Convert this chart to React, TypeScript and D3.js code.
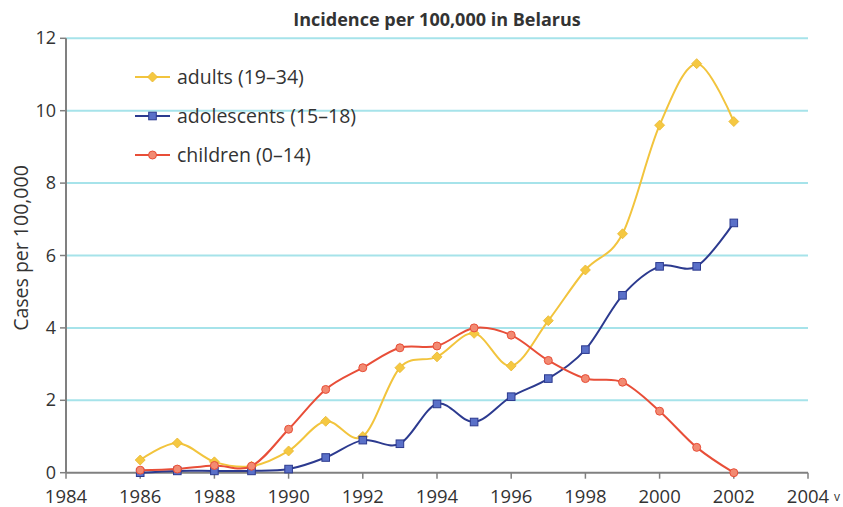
import React from "react";
import * as d3 from "d3";

const years = [1986, 1987, 1988, 1989, 1990, 1991, 1992, 1993, 1994, 1995, 1996, 1997, 1998, 1999, 2000, 2001, 2002];
const adults = [0.35, 0.82, 0.3, 0.18, 0.6, 1.42, 1.0, 2.9, 3.2, 3.85, 2.95, 4.2, 5.6, 6.6, 9.6, 11.3, 9.7];
const adolescents = [0, 0.05, 0.05, 0.05, 0.1, 0.42, 0.9, 0.8, 1.9, 1.4, 2.1, 2.6, 3.4, 4.9, 5.7, 5.7, 6.9];
const children = [0.07, 0.1, 0.2, 0.18, 1.2, 2.3, 2.9, 3.45, 3.5, 4.0, 3.8, 3.1, 2.6, 2.5, 1.7, 0.7, 0.0];
const xTicks = [1984, 1986, 1988, 1990, 1992, 1994, 1996, 1998, 2000, 2002, 2004];
const yTicks = [0, 2, 4, 6, 8, 10, 12];
const seriesNames = ["adults (19\u201334)", "adolescents (15\u201318)", "children (0\u201314)"];

const W = 843, H = 507;
const x = d3.scaleLinear().domain([1984, 2004]).range([66, 808]);
const y = d3.scaleLinear().domain([0, 12]).range([472.7, 38.3]);

const series = [
  { name: seriesNames[0], values: adults, line: "#f2c43d", fill: "#f5c842", stroke: "#e9b730", marker: "diamond" },
  { name: seriesNames[1], values: adolescents, line: "#2c3a8f", fill: "#5a70c8", stroke: "#2c3a8f", marker: "square" },
  { name: seriesNames[2], values: children, line: "#e84e38", fill: "#f28a72", stroke: "#e84e38", marker: "circle" },
];

function Marker({ type, cx, cy, fill, stroke }: any) {
  if (type === "diamond") {
    const r = 5;
    return <path d={`M${cx},${cy - r}L${cx + r},${cy}L${cx},${cy + r}L${cx - r},${cy}Z`} fill={fill} stroke={stroke} strokeWidth={0.8} />;
  }
  if (type === "square") {
    return <rect x={cx - 3.8} y={cy - 3.8} width={7.6} height={7.6} fill={fill} stroke={stroke} strokeWidth={1} />;
  }
  return <circle cx={cx} cy={cy} r={4} fill={fill} stroke={stroke} strokeWidth={1} />;
}

export default function App() {
  const line = d3.line<number>()
    .x((_, i) => x(years[i]))
    .y((d) => y(d))
    .curve(d3.curveCardinal.tension(0));
  const font = "'Open Sans', sans-serif";
  return (
    <svg width={W} height={H} style={{ position: "absolute", left: 0, top: 0 }} fontFamily={font}>
      <rect width={W} height={H} fill="#fff" />
      <text x={437} y={26} textAnchor="middle" fontSize={18} fontWeight="bold" fill="#333">Incidence per 100,000 in Belarus</text>
      {yTicks.filter((t) => t > 0).map((t) => (
        <line key={t} x1={x(1984)} x2={x(2004)} y1={y(t)} y2={y(t)} stroke="#a6e3ea" strokeWidth={2} />
      ))}
      <line x1={x(1984)} x2={x(1984)} y1={y(12)} y2={y(0)} stroke="#808080" strokeWidth={2} />
      <line x1={x(1984)} x2={x(2004)} y1={y(0)} y2={y(0)} stroke="#808080" strokeWidth={2} />
      {yTicks.map((t) => (
        <g key={t}>
          <line x1={x(1984) - 6} x2={x(1984)} y1={y(t)} y2={y(t)} stroke="#808080" strokeWidth={1.5} />
          <text x={x(1984) - 10} y={y(t) + 6} textAnchor="end" fontSize={18} fill="#333">{t}</text>
        </g>
      ))}
      {xTicks.map((t) => (
        <g key={t}>
          <line x1={x(t)} x2={x(t)} y1={y(0)} y2={y(0) + 6} stroke="#808080" strokeWidth={1.5} />
          <text x={x(t)} y={y(0) + 30} textAnchor="middle" fontSize={18.5} fill="#333">{t}</text>
        </g>
      ))}
      <text x={834} y={501} fontSize={12} fill="#333">v</text>
      <text transform={`translate(28,248) rotate(-90)`} textAnchor="middle" fontSize={19.5} fill="#333">Cases per 100,000</text>
      {series.map((s) => (
        <g key={s.name}>
          <path d={line(s.values) || ""} fill="none" stroke={s.line} strokeWidth={2} />
          {s.values.map((v, i) => (
            <Marker key={i} type={s.marker} cx={x(years[i])} cy={y(v)} fill={s.fill} stroke={s.stroke} />
          ))}
        </g>
      ))}
      {series.map((s, i) => {
        const ly = 77 + i * 39;
        return (
          <g key={s.name}>
            <line x1={135} x2={170} y1={ly} y2={ly} stroke={s.line} strokeWidth={2} />
            <Marker type={s.marker} cx={152.5} cy={ly} fill={s.fill} stroke={s.stroke} />
            <text x={177} y={ly} dy="0.35em" fontSize={19.5} fill="#333">{s.name}</text>
          </g>
        );
      })}
    </svg>
  );
}
